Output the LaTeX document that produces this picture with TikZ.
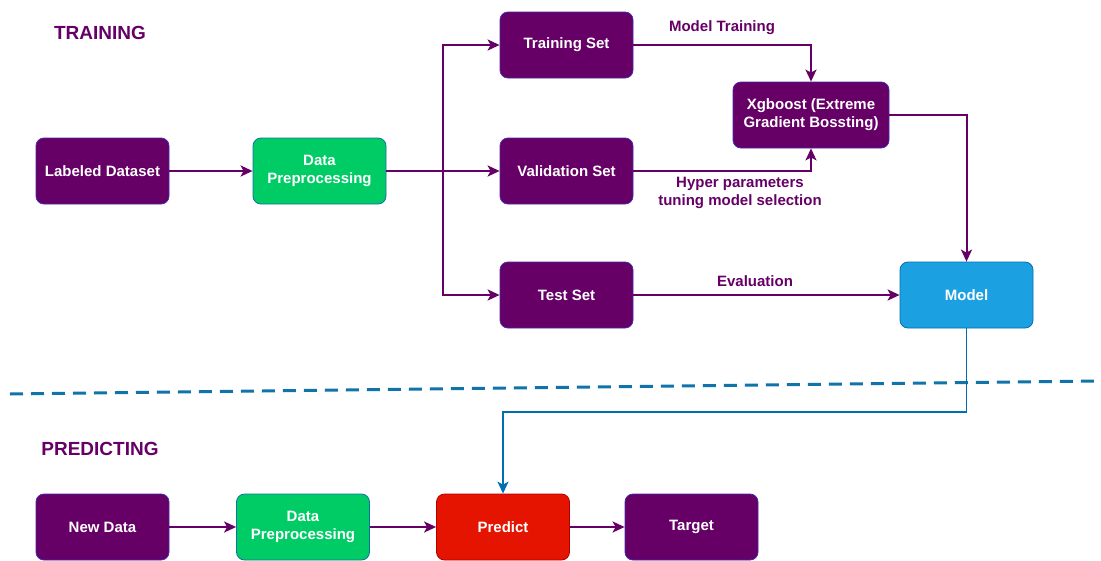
\documentclass[tikz,border=0pt]{standalone}
\usepackage{fontspec}
\setmainfont{Liberation Sans}
\usetikzlibrary{arrows.meta}
\definecolor{dpurple}{RGB}{102,0,102}
\definecolor{pstroke}{RGB}{70,40,170}
\definecolor{dgreen}{RGB}{0,204,102}
\definecolor{gstroke}{RGB}{16,115,158}
\definecolor{mblue}{RGB}{27,161,226}
\definecolor{bstroke}{RGB}{0,110,175}
\definecolor{pred}{RGB}{229,20,0}
\definecolor{rstroke}{RGB}{178,0,0}
\definecolor{dashc}{RGB}{16,115,170}
\tikzset{
  box/.style={rounded corners=8pt, minimum width=133pt, minimum height=66pt, align=center,
    font=\bfseries\fontsize{15}{18}\selectfont, text=white, line width=0.8pt, inner sep=2pt},
  pbox/.style={box, fill=dpurple, draw=pstroke},
  gbox/.style={box, fill=dgreen, draw=gstroke},
  bbox/.style={box, fill=mblue, draw=bstroke},
  rbox/.style={box, fill=pred, draw=rstroke},
  arr/.style={draw=dpurple, line width=2pt, -{Stealth[length=12pt,width=11pt,inset=3pt]}},
  barr/.style={draw=bstroke, line width=1.6pt, -{Stealth[length=12pt,width=11pt,inset=3pt]}},
  lbl/.style={text=dpurple, font=\bfseries\fontsize{15}{18}\selectfont, align=center},
  title/.style={text=dpurple, font=\bfseries\fontsize{19}{22}\selectfont}
}
\begin{document}
\begin{tikzpicture}[x=1pt,y=-1pt]
\useasboundingbox (0,0) rectangle (1101,560);
\node[title] (ttrain) at (100,33) {TRAINING};
\node[title] (tpred) at (100,449) {PREDICTING};

\node[pbox] (ld) at (102.5,171) {Labeled Dataset};
\node[gbox] (dp) at (319.5,171) {Data\\Preprocessing};
\node[pbox] (ts) at (566.5,45) {Training Set};
\node[pbox] (vs) at (566.5,171) {Validation Set};
\node[pbox] (test) at (566.5,295) {Test Set};
\node[pbox, minimum width=156pt] (xg) at (811,115) {Xgboost (Extreme\\Gradient Bossting)};
\node[bbox] (model) at (966.5,295) {Model};

\node[pbox] (nd) at (102.5,527) {New Data};
\node[gbox] (dp2) at (303,527) {Data\\Preprocessing};
\node[rbox] (pr) at (503,527) {Predict};
\node[pbox] (tg) at (691.5,527) {Target};

\coordinate (br) at (443,171);
\draw[arr] (ld) -- (dp);
\draw[arr] (dp) -- (vs);
\draw[arr] (br) |- (ts);
\draw[arr] (br) |- (test);
\draw[arr] (ts.east) -| (xg.north);
\draw[arr] (vs.east) -| (xg.south);
\draw[arr] (xg.east) -| (model.north);
\draw[arr] (test) -- (model);

\node[lbl] (lmt) at (722,28) {Model Training};
\node[lbl] (lhp) at (740,193) {Hyper parameters\\tuning model selection};
\node[lbl] (lev) at (755,281) {Evaluation};

\coordinate (dl) at (10,394);
\coordinate (dr) at (1101,381);
\draw[dashc, line width=3pt, dash pattern=on 13pt off 8pt] (dl) -- (dr);

\draw[barr] (model.south) -- (model.south |- 0,412) -| (pr.north);

\draw[arr] (nd) -- (dp2);
\draw[arr] (dp2) -- (pr);
\draw[arr] (pr) -- (tg);
\end{tikzpicture}
\end{document}
